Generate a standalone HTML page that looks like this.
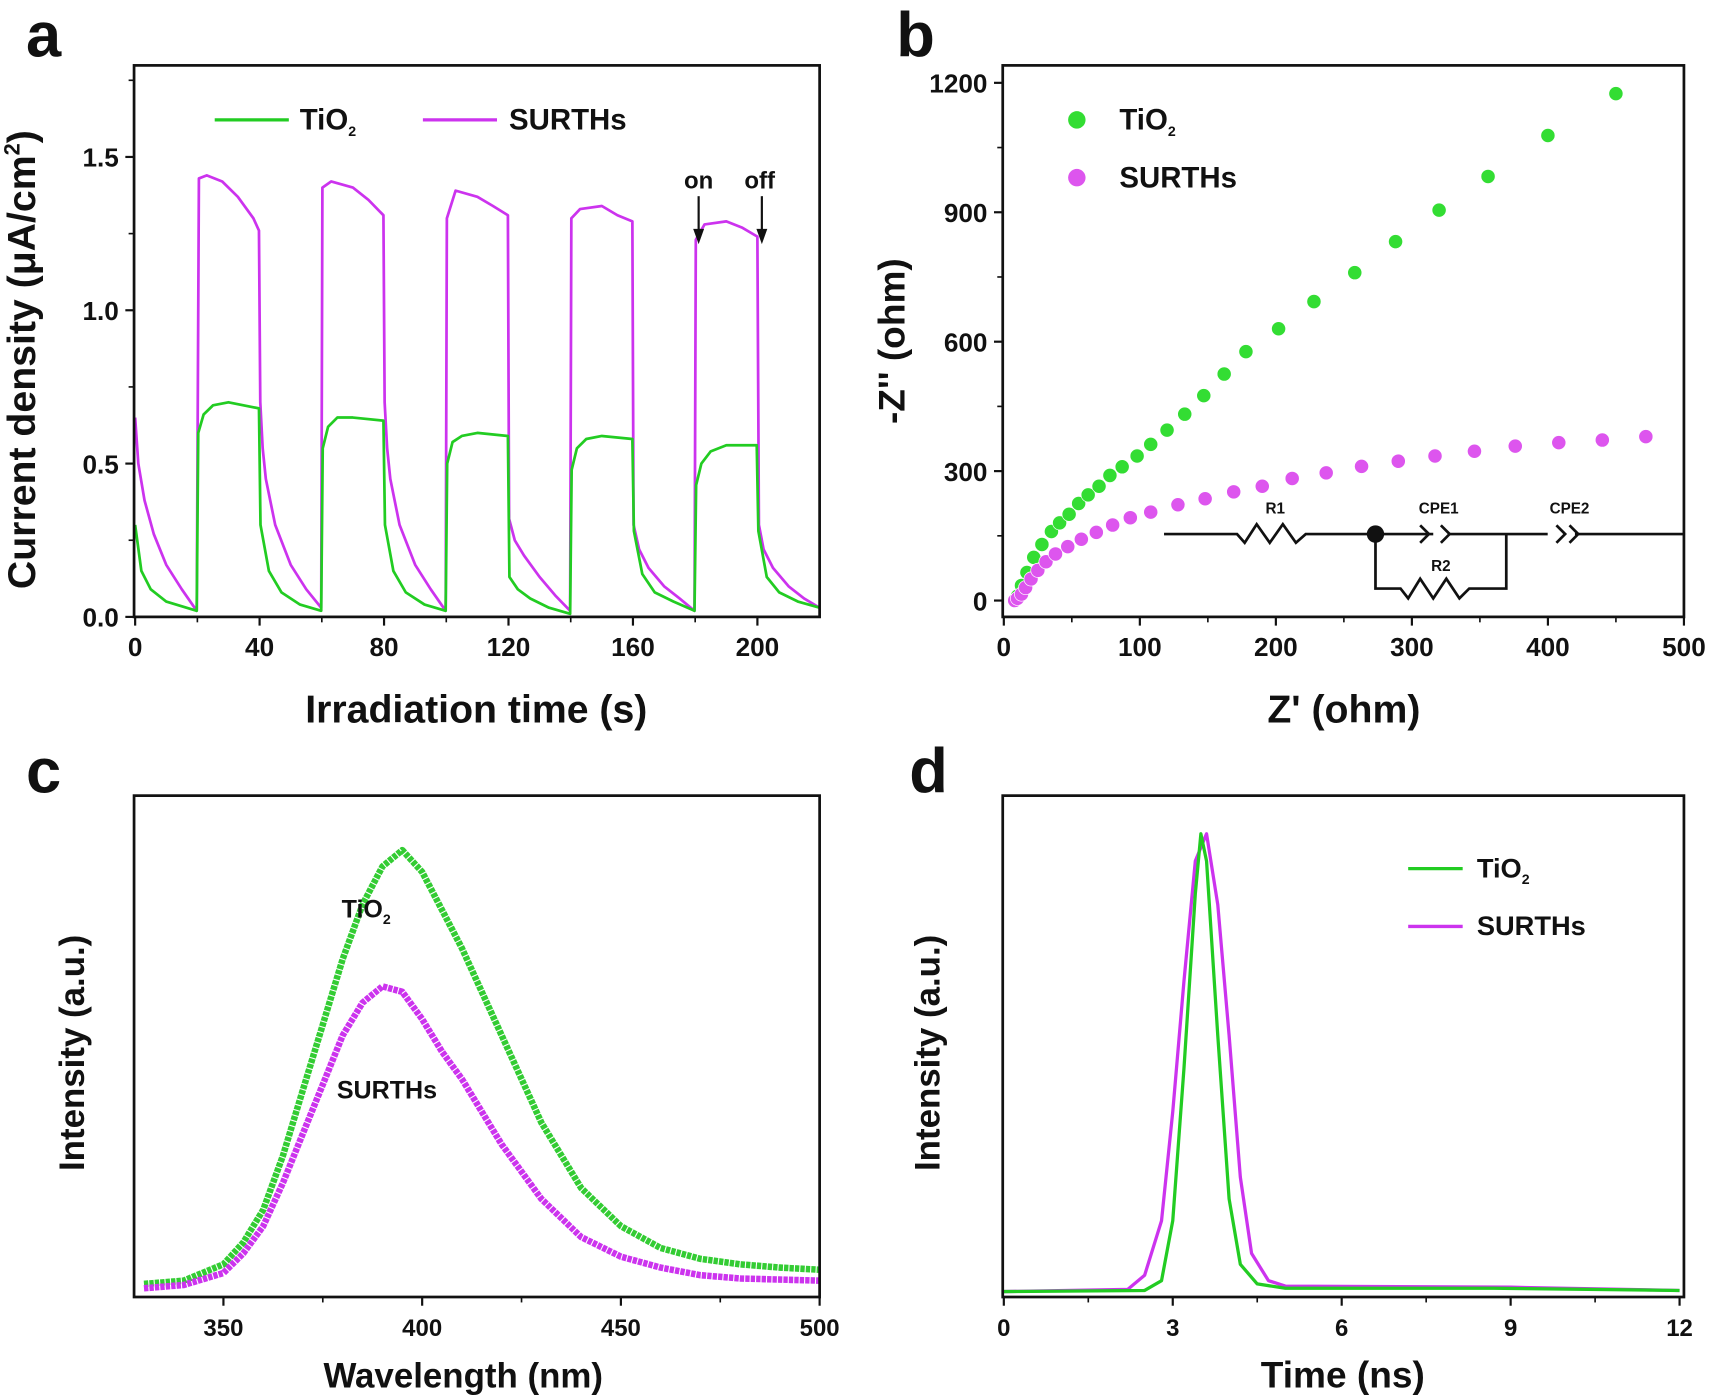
<!DOCTYPE html>
<html><head><meta charset="utf-8"><style>
html,body{margin:0;padding:0;background:#fff}
svg{display:block}
text{font-family:"Liberation Sans",sans-serif;font-weight:bold;fill:#111}
</style></head><body>
<svg id="fig" width="1709" height="1400" viewBox="0 0 1568 1284.5" preserveAspectRatio="none"></svg>
<script>
// Panel a data
const aTime_TiO2=[0,2,5,10,19.8,20.3,22,25,30,39.8,40.3,43,47,53,59.8,60.3,62,65,70,79.8,80.3,83,87,93,99.8,100.3,102,105,110,119.8,120.3,123,127,133,139.8,140.3,142,145,150,159.8,160.3,163,167,173,179.8,180.3,182,185,190,199.8,200.3,203,207,213,220];
const aVal_TiO2=[0.3,0.15,0.09,0.05,0.02,0.6,0.66,0.69,0.7,0.68,0.3,0.15,0.08,0.04,0.02,0.55,0.62,0.65,0.65,0.64,0.3,0.15,0.08,0.04,0.02,0.5,0.57,0.59,0.6,0.59,0.13,0.09,0.06,0.03,0.01,0.48,0.55,0.58,0.59,0.58,0.28,0.14,0.08,0.05,0.02,0.43,0.5,0.54,0.56,0.56,0.28,0.13,0.08,0.05,0.03];
const aTime_SURTH=[0,1,3,6,10,15,19.8,20.5,23,28,33,38,39.8,40.2,41,42,45,50,55,59.8,60.2,63,70,75,79.8,80.2,81,82,85,90,95,99.8,100.2,103,110,115,119.8,120.2,122,125,130,135,139.8,140.2,143,150,155,159.8,160.2,162,165,170,175,179.8,180.2,183,190,195,200,200.5,202,205,210,215,220];
const aVal_SURTH=[0.65,0.5,0.38,0.27,0.17,0.09,0.02,1.43,1.44,1.42,1.37,1.3,1.26,0.7,0.55,0.45,0.3,0.17,0.09,0.03,1.4,1.42,1.4,1.36,1.31,0.7,0.55,0.45,0.3,0.17,0.09,0.02,1.3,1.39,1.37,1.34,1.31,0.32,0.25,0.2,0.13,0.07,0.02,1.3,1.33,1.34,1.31,1.29,0.3,0.22,0.16,0.1,0.06,0.02,1.23,1.28,1.29,1.27,1.24,0.3,0.22,0.16,0.1,0.06,0.03];
const aXTicks=[0,40,80,120,160,200];
const aYTicks=["0.0","0.5","1.0","1.5"];
// Panel b data
const bZre_TiO2=[10,13,17,22,28,35,41,48,55,62,70,78,87,98,108,120,133,147,162,178,202,228,258,288,320,356,400,450];
const bZim_TiO2=[10,35,65,100,130,160,180,200,225,245,265,290,310,335,362,395,432,475,525,577,630,693,760,832,905,983,1078,1175];
const bZre_SURTH=[8,10,13,16,20,25,31,38,47,57,68,80,93,108,128,148,169,190,212,237,263,290,317,346,376,408,440,472];
const bZim_SURTH=[0,5,15,30,50,70,90,108,125,142,158,175,192,205,222,236,252,265,283,296,311,323,335,346,358,366,372,380];
const bXTicks=[0,100,200,300,400,500];
const bYTicks=[0,300,600,900,1200];
// Panel c data
const cWl=[330,340,350,355,360,365,370,375,380,385,390,395,400,405,410,420,430,440,450,460,470,480,490,500];
const cInt_TiO2=[7,10,25,45,75,125,185,245,305,355,390,405,385,350,315,235,155,95,60,40,30,25,22,20];
const cInt_SURTH=[3,6,17,35,60,100,145,190,235,265,280,275,250,220,195,135,85,50,32,22,15,12,11,10];
const cXTicks=[350,400,450,500];
// Panel d data
const dT_TiO2=[0,2.5,2.8,3.0,3.2,3.4,3.5,3.6,3.8,4.0,4.2,4.5,5,8.7,12];
const dI_TiO2=[0,1,10,65,205,365,420,395,235,85,25,7,3,3,1];
const dT_SURTH=[0,2.2,2.5,2.8,3.0,3.2,3.4,3.6,3.8,4.0,4.2,4.4,4.7,5,9,12];
const dI_SURTH=[0,2,15,65,165,285,395,420,355,235,105,35,10,5,4,1];
const dXTicks=[0,3,6,9,12];

const G='#22cc22', M='#cc33ee';
const svg=document.getElementById('fig');
const NS='http://www.w3.org/2000/svg';
function el(tag,attrs,parent){const e=document.createElementNS(NS,tag);for(const k in attrs)e.setAttribute(k,attrs[k]);(parent||svg).appendChild(e);return e;}
function txt(s,x,y,size,anchor,parent){const t=el('text',{x:x,y:y,'font-size':size,'text-anchor':anchor||'middle'},parent);t.textContent=s;return t;}
function grp(name){const g=el('g',{});return g;}
function lin(x0,x1,p0,p1){return v=>p0+(v-x0)/(x1-x0)*(p1-p0);}
function frame(g,x0,y0,x1,y1){el('rect',{x:x0,y:y0,width:x1-x0,height:y1-y0,fill:'none',stroke:'#111','stroke-width':2.5},g);}
function path(g,xs,ys,sx,sy,col,w){let d='';for(let i=0;i<xs.length;i++)d+=(i?'L':'M')+sx(xs[i]).toFixed(1)+','+sy(ys[i]).toFixed(1);return el('path',{d:d,fill:'none',stroke:col,'stroke-width':w||2.5,'stroke-linejoin':'round'},g);}
function xticks(g,ticks,labels,sx,yb,minorN,fs){
  for(let i=0;i<ticks.length;i++){const x=sx(ticks[i]);el('line',{x1:x,y1:yb,x2:x,y2:yb+8,stroke:'#111','stroke-width':2},g);txt(labels[i],x,yb+36,fs||24,'middle',g);
    if(i<ticks.length-1){for(let k=1;k<minorN;k++){const xm=sx(ticks[i]+(ticks[i+1]-ticks[i])*k/minorN);el('line',{x1:xm,y1:yb,x2:xm,y2:yb+5,stroke:'#111','stroke-width':1.5},g);}}}
}
function yticks(g,ticks,labels,sy,xl,fs){
  for(let i=0;i<ticks.length;i++){const y=sy(ticks[i]);el('line',{x1:xl-8,y1:y,x2:xl,y2:y,stroke:'#111','stroke-width':2},g);txt(labels[i],xl-14,y+9,fs||24,'end',g);
    if(i<ticks.length-1){const ym=sy((ticks[i]+ticks[i+1])/2);el('line',{x1:xl-5,y1:ym,x2:xl,y2:ym,stroke:'#111','stroke-width':1.5},g);}}
}
function ytitle(g,s,x,y,fs){const t=txt(s,x,y,fs,'middle',g);t.setAttribute('transform','rotate(-90 '+x+' '+y+')');return t;}
function sub2(t){const ts=el('tspan',{'font-size':13,dy:6},t);ts.textContent='2';}

// ---------- Panel a ----------
(function(){
const g=grp('panel-a');
const sx=lin(0,220,124,752), sy=lin(0,1.5,566,144);
txt('a',40,52,58,'middle',g);
xticks(g,aXTicks,aXTicks.map(String),sx,566,2);
yticks(g,[0,0.5,1,1.5],aYTicks,sy,123);
el('line',{x1:118,y1:sy(1.75),x2:123,y2:sy(1.75),stroke:'#111','stroke-width':1.5},g);
const pm=path(g,aTime_SURTH,aVal_SURTH,sx,sy,M);
const pg=path(g,aTime_TiO2,aVal_TiO2,sx,sy,G);
frame(g,123,60,752,566);
const xt=txt('Irradiation time (s)',437,663,36,'middle',g);
const yt=ytitle(g,'Current density (μA/cm',32,330,36);const s=el('tspan',{'font-size':20,dy:-14},yt);s.textContent='2';const s2=el('tspan',{dy:14},yt);s2.textContent=')';
const lg=grp('legend-a');g.appendChild(lg);
el('line',{x1:197,y1:110,x2:265,y2:110,stroke:G,'stroke-width':3},lg);
const t1=txt('TiO',275,119,27,'start',lg);sub2(t1);
el('line',{x1:388,y1:110,x2:456,y2:110,stroke:M,'stroke-width':3},lg);
txt('SURTHs',467,119,27,'start',lg);
txt('on',641,173,22,'middle',g);txt('off',697,173,22,'middle',g);
[641,699].forEach(x=>{el('line',{x1:x,y1:180,x2:x,y2:215,stroke:'#111','stroke-width':2},g);el('path',{d:`M${x-5},210L${x+5},210L${x},224Z`,fill:'#111'},g);});
})();

// ---------- Panel b ----------
(function(){
const g=grp('panel-b');
const sx=lin(0,500,921,1545), sy=lin(0,1200,551,76);
txt('b',840,52,58,'middle',g);
xticks(g,bXTicks,bXTicks.map(String),sx,566,2);
yticks(g,bYTicks,bYTicks.map(String),sy,920);
function dots(xs,ys,col,name){const gg=grp(name);g.appendChild(gg);for(let i=0;i<xs.length;i++){const c=el('circle',{cx:sx(xs[i]),cy:sy(ys[i]),r:6.5,fill:col,stroke:'#fff','stroke-width':0.6},gg);}}
dots(bZre_TiO2,bZim_TiO2,'#33dd33','tio2-nyquist-points');
dots(bZre_SURTH,bZim_SURTH,'#dd55ee','surths-nyquist-points');
frame(g,920,60,1545,566);
const ci=grp('equivalent-circuit');g.appendChild(ci);
const st={stroke:'#111','stroke-width':2.5,fill:'none'};
el('path',Object.assign({d:'M1068,490L1135,490L1142,498L1153,481L1165,498L1177,481L1189,498L1198,490L1315,490M1330,490L1420,490M1445,490L1545,490M1262,490L1262,540L1285,540L1292,549L1303,531L1315,549L1327,531L1339,549L1348,540L1382,540L1382,490'},st),ci);
el('path',Object.assign({d:'M1303,482L1311,490L1303,498M1322,482L1330,490L1322,498M1428,482L1436,490L1428,498M1440,482L1448,490L1440,498'},st),ci);
el('circle',{cx:1262,cy:490,r:8,fill:'#111'},ci);
txt('R1',1170,471,14,'middle',ci);txt('CPE1',1320,471,14,'middle',ci);txt('CPE2',1440,471,14,'middle',ci);txt('R2',1322,524,14,'middle',ci);
txt("Z' (ohm)",1233,663,36,'middle',g);
ytitle(g,"-Z'' (ohm)",830,313,34);
const lg=grp('legend-b');g.appendChild(lg);
el('circle',{cx:988,cy:110,r:8,fill:'#33dd33'},lg);const t=txt('TiO',1027,119,27,'start',lg);sub2(t);
el('circle',{cx:988,cy:163,r:8,fill:'#dd55ee'},lg);txt('SURTHs',1027,172,27,'start',lg);
})();

// ---------- Panel c ----------
(function(){
const g=grp('panel-c');
const sx=lin(350,500,205,752), sy=lin(0,460,1185,725);
txt('c',40,727,58,'middle',g);
xticks(g,cXTicks,cXTicks.map(String),sx,1190,2,22);
const pg=path(g,cWl,cInt_TiO2,sx,sy,'#33cc33',6);pg.setAttribute('stroke-dasharray','4,1');
const pm=path(g,cWl,cInt_SURTH,sx,sy,'#cc33ee',6);pm.setAttribute('stroke-dasharray','4,1');
frame(g,123,730,752,1190);
const t=txt('TiO',336,842,23,'middle',g);sub2(t);
txt('SURTHs',355,1008,23,'middle',g);
txt('Wavelength (nm)',425,1273,32,'middle',g);
ytitle(g,'Intensity (a.u.)',77,966,32);
})();

// ---------- Panel d ----------
(function(){
const g=grp('panel-d');
const sx=lin(0,12,921,1541), sy=lin(0,420,1185,765);
txt('d',852,727,58,'middle',g);
xticks(g,dXTicks,dXTicks.map(String),sx,1190,2,22);
const pm=path(g,dT_SURTH,dI_SURTH,sx,sy,M,3);
const pg=path(g,dT_TiO2,dI_TiO2,sx,sy,G,3);
frame(g,920,730,1545,1190);
const lg=grp('legend-d');g.appendChild(lg);
el('line',{x1:1292,y1:797,x2:1342,y2:797,stroke:G,'stroke-width':3},lg);const t=txt('TiO',1355,805,25,'start',lg);sub2(t);
el('line',{x1:1292,y1:850,x2:1342,y2:850,stroke:M,'stroke-width':3},lg);txt('SURTHs',1355,858,25,'start',lg);
txt('Time (ns)',1232,1273,34,'middle',g);
ytitle(g,'Intensity (a.u.)',862,966,32);
})();
</script>
</body></html>
